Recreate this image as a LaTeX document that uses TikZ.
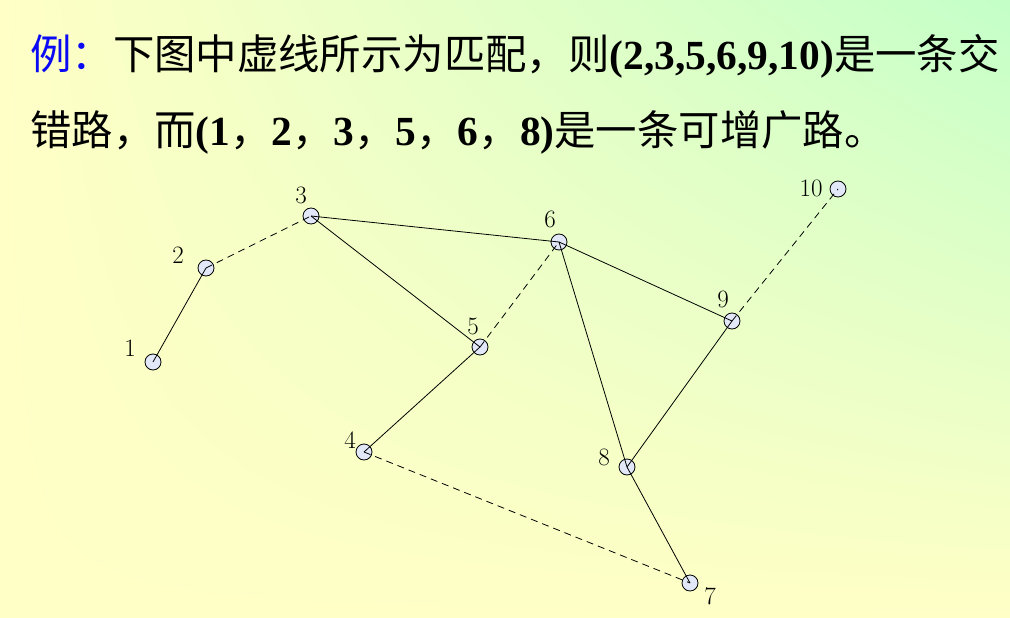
\documentclass[tikz,border=0pt]{standalone}
\usepackage{fontspec}
\usepackage{xcolor}
\usepackage{tikz}
\usetikzlibrary{positioning,calc,shadings}
\newfontfamily\cjk{Noto Sans CJK SC}
\newfontfamily\tnr{Liberation Serif}
\definecolor{bgyellow}{RGB}{255,255,198}
\definecolor{bggreen}{RGB}{196,255,200}
\definecolor{vfill}{RGB}{226,232,248}
\definecolor{exblue}{RGB}{10,10,245}

\begin{document}
\begin{tikzpicture}[
    x=1pt, y=-1pt,
    vtx/.style={circle, draw, fill=vfill, line width=0.8pt, minimum size=16pt, inner sep=0pt},
    lbl/.style={font=\fontsize{25}{25}\selectfont, inner sep=0pt},
    title/.style={font=\fontsize{41.4}{41.4}\selectfont\cjk, anchor=base west, inner sep=0pt},
    edge/.style={line width=0.8pt},
    match/.style={edge, dash pattern=on 7pt off 5pt}
]
    \shade[upper left=bgyellow, lower left=bgyellow, lower right=bgyellow, upper right=bggreen]
        (0,0) rectangle (1010,618);
    \useasboundingbox (0,0) rectangle (1010,618);

    % text
    \node[title] (t1) at (30,70) {{\color{exblue}例：}下图中虚线所示为匹配，则{\tnr\bfseries(2,3,5,6,9,10)}是一条交};
    \node[title] (t2) at (30,145) {错路，而{\tnr\bfseries(1}，{\tnr\bfseries2}，{\tnr\bfseries3}，{\tnr\bfseries5}，{\tnr\bfseries6}，{\tnr\bfseries8)}是一条可增广路。};

    % vertices
    \node[vtx] (v1) at (153,362) {};
    \node[vtx] (v2) at (206,268) {};
    \node[vtx] (v3) at (311,216) {};
    \node[vtx] (v4) at (364,452) {};
    \node[vtx] (v5) at (480,347) {};
    \node[vtx] (v6) at (559,242) {};
    \node[vtx] (v7) at (690,583) {};
    \node[vtx] (v8) at (627,467) {};
    \node[vtx] (v9) at (732,321) {};
    \node[vtx] (v10) at (838,189) {};

    \node[lbl] (l1) at (130,348) {1};
    \node[lbl] (l2) at (178,255) {2};
    \node[lbl] (l3) at (301,195) {3};
    \node[lbl] (l4) at (350,440) {4};
    \node[lbl] (l5) at (473,326) {5};
    \node[lbl] (l6) at (550,219) {6};
    \node[lbl] (l7) at (710,596) {7};
    \node[lbl] (l8) at (604,457) {8};
    \node[lbl] (l9) at (723,299) {9};
    \node[lbl] (l10) at (811,188) {10};

    % edges
    \draw[edge] (v1.center) -- (v2.center);
    \draw[match] (v2.center) -- (v3.center);
    \draw[edge] (v3.center) -- (v6.center);
    \draw[edge] (v3.center) -- (v5.center);
    \draw[match] (v5.center) -- (v6.center);
    \draw[edge] (v5.center) -- (v4.center);
    \draw[match] (v4.center) -- (v7.center);
    \draw[edge] (v6.center) -- (v9.center);
    \draw[edge] (v6.center) -- (v8.center);
    \draw[edge] (v8.center) -- (v7.center);
    \draw[edge] (v8.center) -- (v9.center);
    \draw[match] (v9.center) -- (v10.center);
\end{tikzpicture}
\end{document}
